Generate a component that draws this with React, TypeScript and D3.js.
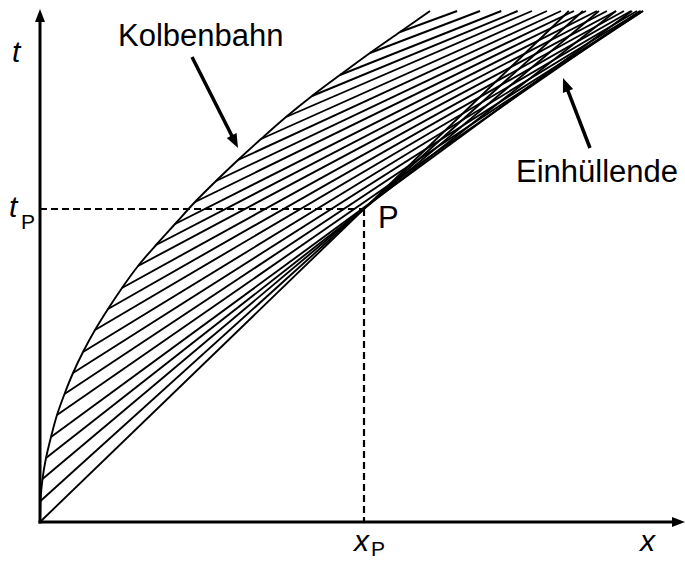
import React from "react";
import * as d3 from "d3";

// Piston path (Kolbenbahn): time t and position x of the start points of the characteristics
const pistonT = [0, 21, 43, 64, 85, 107, 128, 149, 170, 192, 213, 234, 256, 277, 298, 320, 341, 362, 383, 405, 426, 447, 469, 490, 511];
const pistonX = [0, 0.5, 2.5, 6, 11, 17, 24.5, 33, 43, 55, 68, 82, 98, 116, 135, 155, 176, 198, 221, 246, 272, 300, 330, 360, 390];
// Slope dx/dt of the characteristic leaving each piston point
const charSlope = [1.035, 1.107, 1.189, 1.275, 1.364, 1.443, 1.51, 1.575, 1.636, 1.699, 1.755, 1.812, 1.875, 1.927, 1.981, 2.047, 2.106, 2.168, 2.234, 2.32, 2.42, 2.52, 2.62, 2.72];
// Point P
const pointP = { x: 324, t: 313 };
// Axis extents
const xDomain = [0, 645];
const tDomain = [0, 511];

const FONT = "'Liberation Sans', Arial, Helvetica, sans-serif";

function arrowHead(tip: [number, number], from: [number, number], len: number, half: number) {
  const dx = tip[0] - from[0];
  const dy = tip[1] - from[1];
  const L = Math.hypot(dx, dy);
  const ux = dx / L, uy = dy / L;
  const bx = tip[0] - ux * len, by = tip[1] - uy * len;
  const px = -uy, py = ux;
  return `${tip[0]},${tip[1]} ${bx + px * half},${by + py * half} ${bx - px * half},${by - py * half}`;
}

function shaftEnd(tip: [number, number], from: [number, number], back: number): [number, number] {
  const dx = tip[0] - from[0];
  const dy = tip[1] - from[1];
  const L = Math.hypot(dx, dy);
  return [tip[0] - (dx / L) * back, tip[1] - (dy / L) * back];
}

export default function App() {
  const W = 685, H = 561;
  const x = d3.scaleLinear().domain(xDomain).range([40, 685]);
  const y = d3.scaleLinear().domain(tDomain).range([522, 11]);
  const tTop = tDomain[1];

  const pts: [number, number][] = pistonT.map((t, i) => [pistonX[i], t]);
  const pistonPath = d3
    .line<[number, number]>()
    .x((d) => x(d[0]))
    .y((d) => y(d[1]))
    .curve(d3.curveMonotoneY)(pts) as string;

  const chars = charSlope.map((s, i) => {
    const t0 = pistonT[i];
    const x0 = pistonX[i];
    return { x1: x(x0), y1: y(t0), x2: x(x0 + s * (tTop - t0)), y2: y(tTop) };
  });

  const ox = x(0), oy = y(0);
  const Px = x(pointP.x), Py = y(pointP.t);

  // annotation arrows (positions in data coords)
  const kTail: [number, number] = [x(152), y(465)];
  const kTip: [number, number] = [x(198), y(374)];
  const eTail: [number, number] = [x(550), y(374)];
  const eTip: [number, number] = [x(523), y(444)];
  const kEnd = shaftEnd(kTip, kTail, 10);
  const eEnd = shaftEnd(eTip, eTail, 10);

  return (
    <svg width={W} height={H} style={{ position: "absolute", left: 0, top: 0, background: "#fff" }}>
      <rect x={0} y={0} width={W} height={H} fill="#fff" />
      {/* characteristics */}
      <g stroke="#000" strokeWidth={1.9} fill="none">
        {chars.map((c, i) => (
          <line key={i} x1={c.x1} y1={c.y1} x2={c.x2} y2={c.y2} />
        ))}
        <path d={pistonPath} />
      </g>
      {/* dashed helper lines */}
      <g stroke="#000" strokeWidth={2.2} strokeDasharray="7,4" fill="none">
        <line x1={ox} y1={Py} x2={Px} y2={Py} />
        <line x1={Px} y1={Py} x2={Px} y2={oy} />
      </g>
      {/* axes */}
      <g stroke="#000" strokeWidth={3} fill="none">
        <line x1={ox} y1={oy + 1.5} x2={ox} y2={21} />
        <line x1={ox - 1.5} y1={oy} x2={674} y2={oy} />
      </g>
      <polygon points={`${ox},9 ${ox - 5},22 ${ox + 5},22`} fill="#000" />
      <polygon points={`685,${oy} 672,${oy - 5} 672,${oy + 5}`} fill="#000" />
      {/* annotation arrows */}
      <g stroke="#000" strokeWidth={3.5}>
        <line x1={kTail[0]} y1={kTail[1]} x2={kEnd[0]} y2={kEnd[1]} />
        <line x1={eTail[0]} y1={eTail[1]} x2={eEnd[0]} y2={eEnd[1]} />
      </g>
      <polygon points={arrowHead(kTip, kTail, 14, 5.5)} fill="#000" />
      <polygon points={arrowHead(eTip, eTail, 14, 5.5)} fill="#000" />
      {/* texts */}
      <g fontFamily={FONT} fill="#000">
        <text x={118} y={46} fontSize={31}>Kolbenbahn</text>
        <text x={516} y={182} fontSize={31}>Einhüllende</text>
        <text x={Px + 14} y={Py + 19} fontSize={31}>P</text>
        <text x={12} y={62} fontSize={30} fontStyle="italic">t</text>
        <text x={9} y={217} fontSize={30} fontStyle="italic">t</text>
        <text x={21} y={229} fontSize={21}>P</text>
        <text x={354} y={551} fontSize={30} fontStyle="italic">x</text>
        <text x={371} y={556} fontSize={21}>P</text>
        <text x={640} y={551} fontSize={30} fontStyle="italic">x</text>
      </g>
    </svg>
  );
}
